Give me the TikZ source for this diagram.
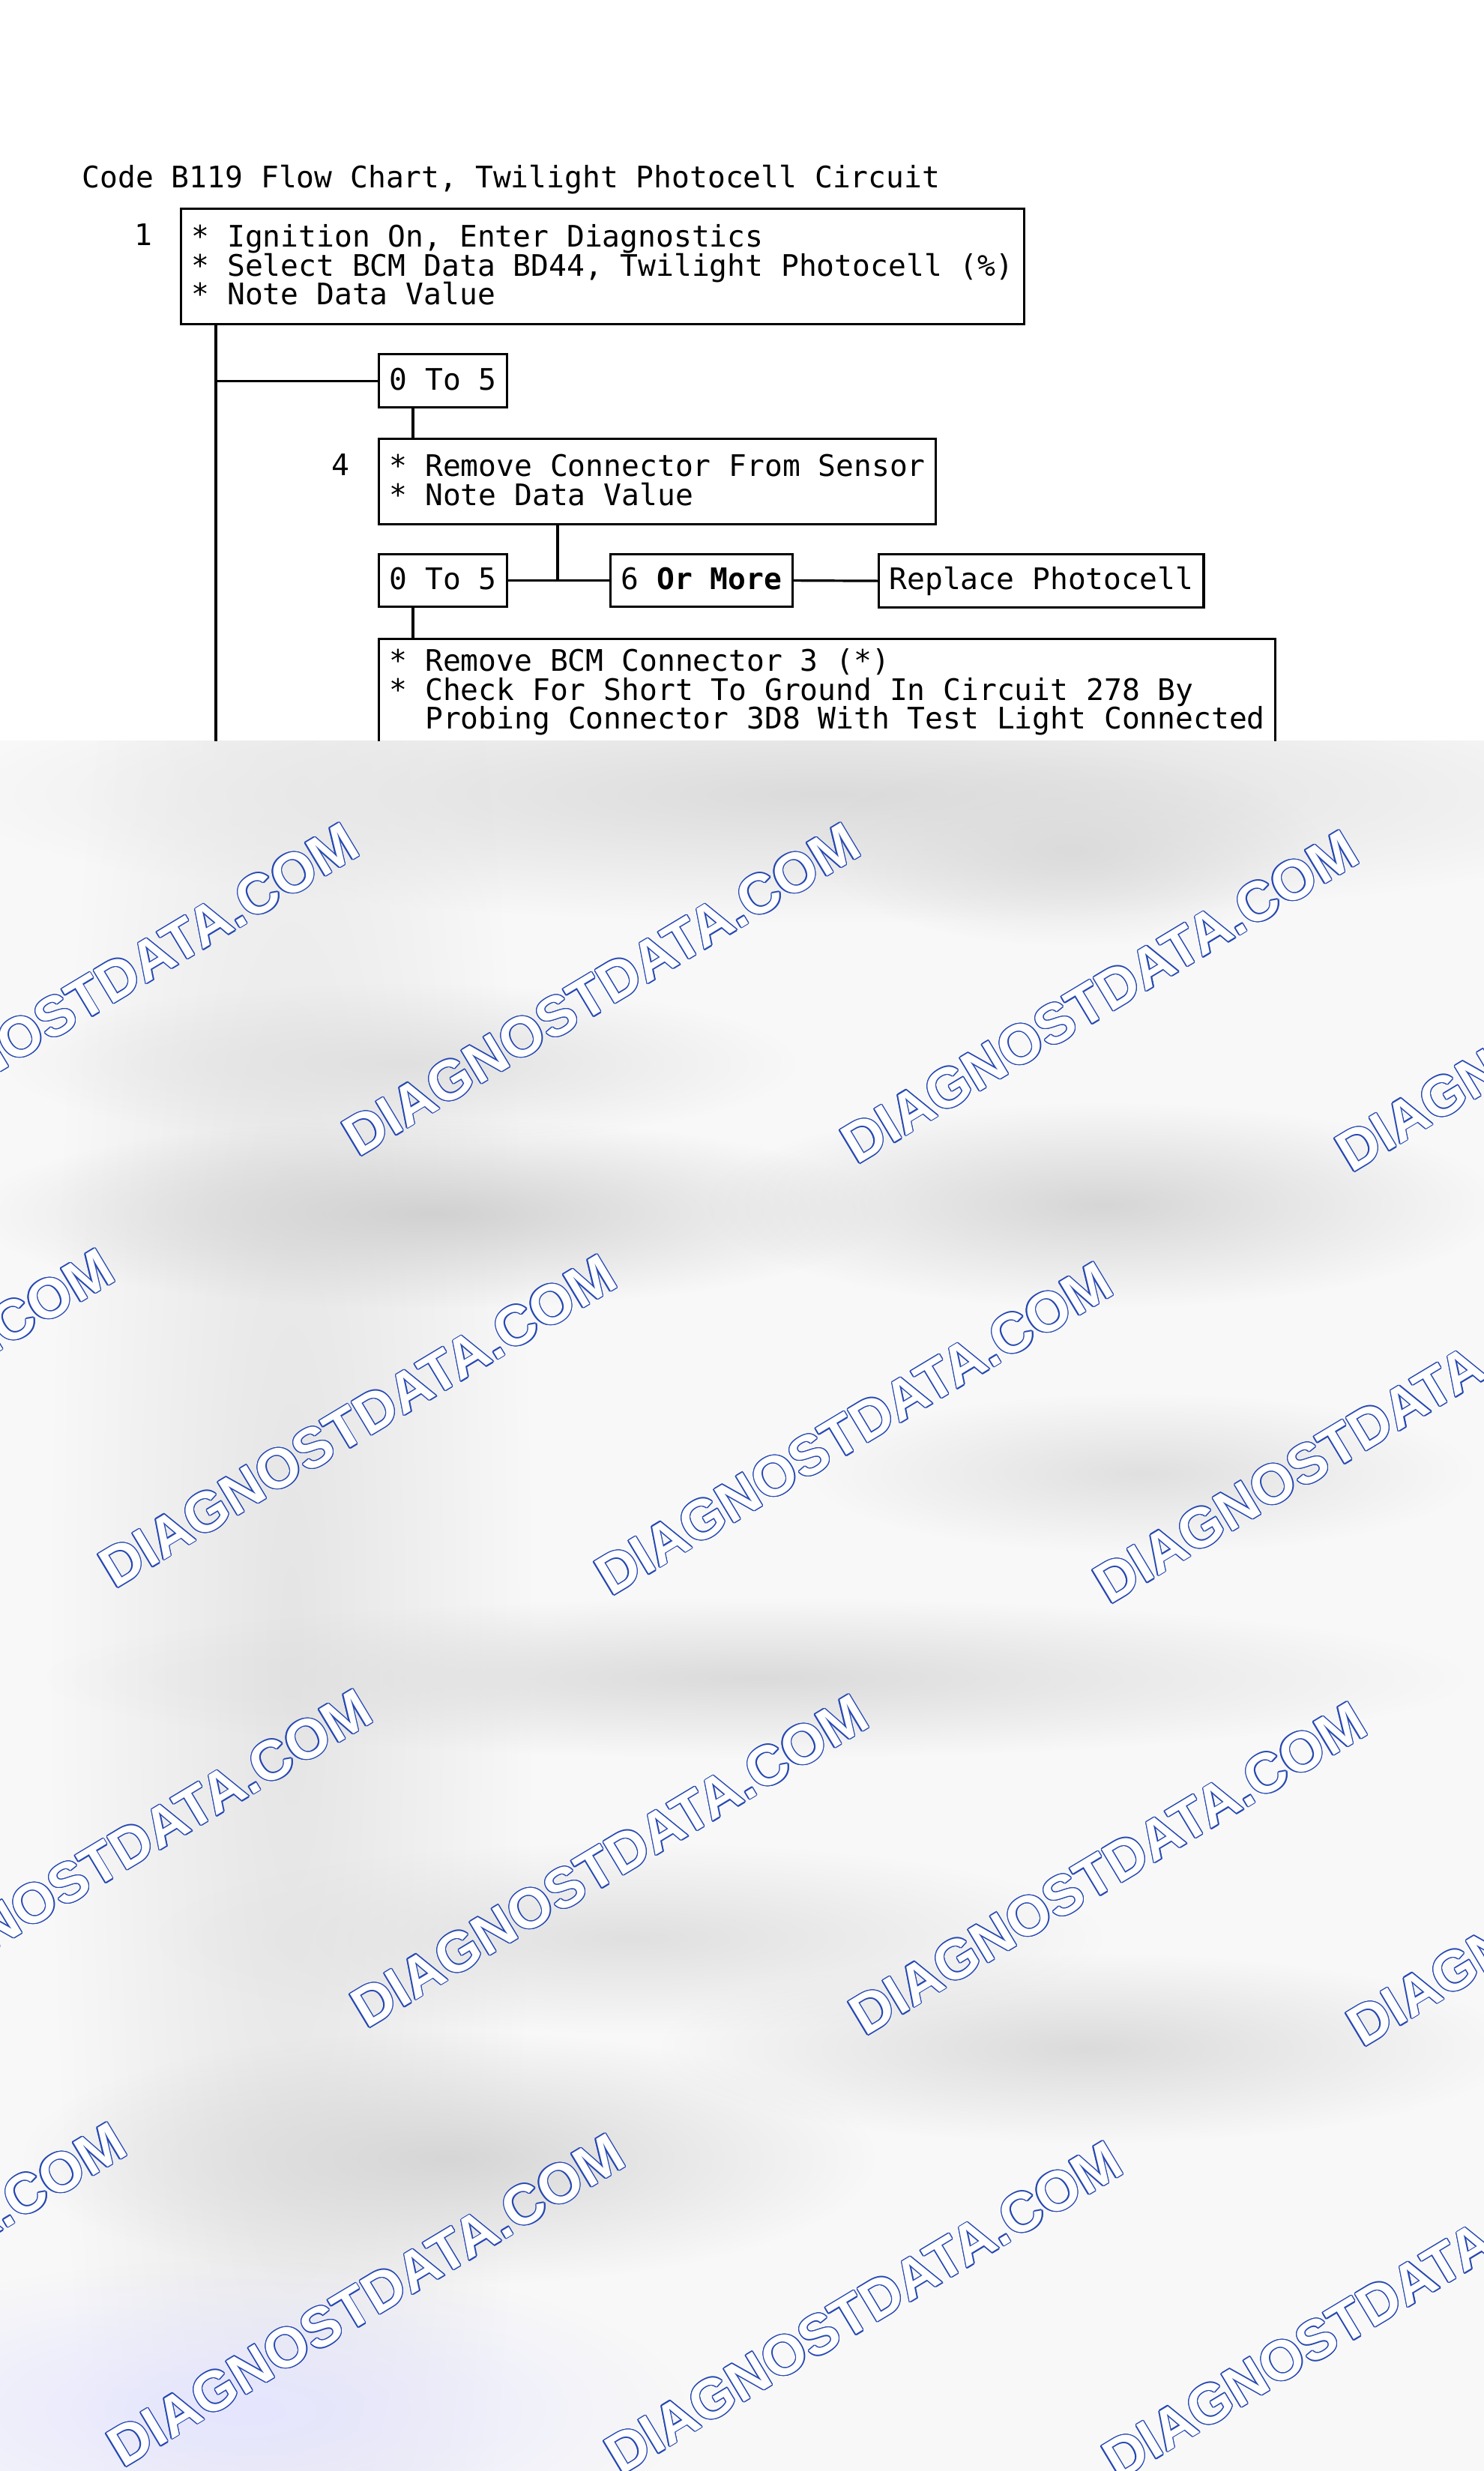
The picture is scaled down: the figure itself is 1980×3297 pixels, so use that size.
\documentclass[tikz,border=0pt]{standalone}
\usepackage{fontspec}
\setmonofont{DejaVu Sans Mono}
\newfontfamily\wmfont{Liberation Sans}
\usetikzlibrary{fadings}

\definecolor{wmblue}{RGB}{38,72,178}
\definecolor{fogbg}{RGB}{248,248,248}
\tikzfading[name=blurblob, inner color=transparent!0, outer color=transparent!100]
\newcommand\vs{\rule[-1.2pt]{0pt}{8.4pt}}
\newcommand\boxfont{\ttfamily\fontsize{9.9pt}{9.6pt}\selectfont\lineskiplimit=-10pt\relax}
\newcommand\wmark[2]{%
  \foreach \a in {0,30,...,330}
    \node[wm, text=wmblue, shift={(\a:0.35pt)}] (#1c\a) at (#2) {DIAGNOSTDATA.COM};
  \node[wm, text=white] (#1) at (#2) {DIAGNOSTDATA.COM};%
}

\begin{document}
\begin{tikzpicture}[x=0.25pt, y=-0.25pt,
  box/.style={draw, line width=0.8pt, anchor=north west, inner xsep=3.5pt, inner ysep=0pt, align=left, font=\boxfont},
  lbl/.style={inner sep=0pt, font=\boxfont},
  wire/.style={line width=0.8pt},
  wm/.style={inner sep=0pt, rotate=31, font=\wmfont\bfseries\fontsize{18.7pt}{20pt}\selectfont},
  fog/.style={path fading=blurblob}]
\useasboundingbox (0,0) rectangle (1980,3297);
\fill[white] (0,0) rectangle (1980,3297);

% blurred lower part
\begin{scope}
\clip (0,988) rectangle (1980,3297);
\fill[fogbg] (0,988) rectangle (1980,3297);
\fill[black!14, fog] (1104,1060) ellipse (1160 and 170);
\fill[black!10, fog] (389,2197) ellipse (320 and 2040);
\fill[black!18, fog] (578,1619) ellipse (610 and 126);
\fill[black!16, fog] (1471,1608) ellipse (526 and 136);
\fill[black!14, fog] (1429,1135) ellipse (336 and 126);
\fill[black!14, fog] (1009,2239) ellipse (946 and 106);
\fill[black!12, fog] (1524,1966) ellipse (440 and 106);
\fill[black!16, fog] (599,2880) ellipse (568 and 168);
\fill[black!14, fog] (1450,2733) ellipse (568 and 126);
\fill[black!12, fog] (841,2586) ellipse (630 and 126);
\fill[black!12, fog] (536,1419) ellipse (526 and 106);
\fill[blue!10, fog] (315,3216) ellipse (600 and 200);
\end{scope}

% title and steps
\node[lbl, anchor=west] (title) at (109,240) {\vs Code B119 Flow Chart, Twilight Photocell Circuit};
\node[lbl] (n1) at (191,315) {\vs 1};
\node[box, minimum height=38.5pt] (step1) at (240,277) {\vs* Ignition On, Enter Diagnostics\\\vs* Select BCM Data BD44, Twilight Photocell (\%)\\\vs* Note Data Value};
\node[box, minimum height=17.75pt] (low1) at (504,471) {\vs 0 To 5};
\node[lbl] (n4) at (454,622) {\vs 4};
\node[box, minimum height=28.5pt] (step4) at (504,584) {\vs* Remove Connector From Sensor\\\vs* Note Data Value};
\node[box, minimum height=17.5pt] (low4) at (504,738) {\vs 0 To 5};
\node[box, minimum height=17.5pt] (high4) at (813,738) {\vs 6 \textbf{Or More}};
\node[box, minimum height=17.75pt] (photo) at (1171,738) {\vs Replace Photocell};

\draw[wire] ([xshift=11.75pt]low1.south west) -- ([xshift=11.75pt]low1.south west |- step4.north);
\draw[wire] ([xshift=60pt]step4.south west) |- (low4.east);
\draw[wire] (low4.east) -- (high4.west);
\draw[wire] (high4.east) -- (photo.west);

\begin{scope}
\clip (0,0) rectangle (1980,988);
\node[box, minimum height=35.5pt] (step5) at (504,851) {\vs* Remove BCM Connector 3 (*)\\\vs* Check For Short To Ground In Circuit 278 By\\\vs\ \ Probing Connector 3D8 With Test Light Connected};
\coordinate (cut) at (0,1000);
\draw[wire] ([xshift=12pt]step1.south west) -- ([xshift=12pt]step1.south west |- cut);
\draw[wire] ([xshift=12pt]step1.south west |- low1.west) -- (low1.west);
\draw[wire] ([xshift=11.75pt]low4.south west) -- ([xshift=11.75pt]low4.south west |- step5.north);
\end{scope}

% watermarks
\begin{scope}
\clip (0,0) rectangle (1980,3297);
\wmark{wma1}{133,1320}
\wmark{wma2}{802,1320}
\wmark{wma3}{1467,1330}
\wmark{wma4}{2127,1341}
\wmark{wmb1}{-193,1888}
\wmark{wmb2}{477,1896}
\wmark{wmb3}{1139,1906}
\wmark{wmb4}{1804,1917}
\wmark{wmc1}{151,2476}
\wmark{wmc2}{813,2483}
\wmark{wmc3}{1478,2493}
\wmark{wmc4}{2142,2508}
\wmark{wmd1}{-177,3054}
\wmark{wmd2}{488,3069}
\wmark{wmd3}{1152,3079}
\wmark{wmd4}{1816,3086}
\end{scope}
\end{tikzpicture}
\end{document}
